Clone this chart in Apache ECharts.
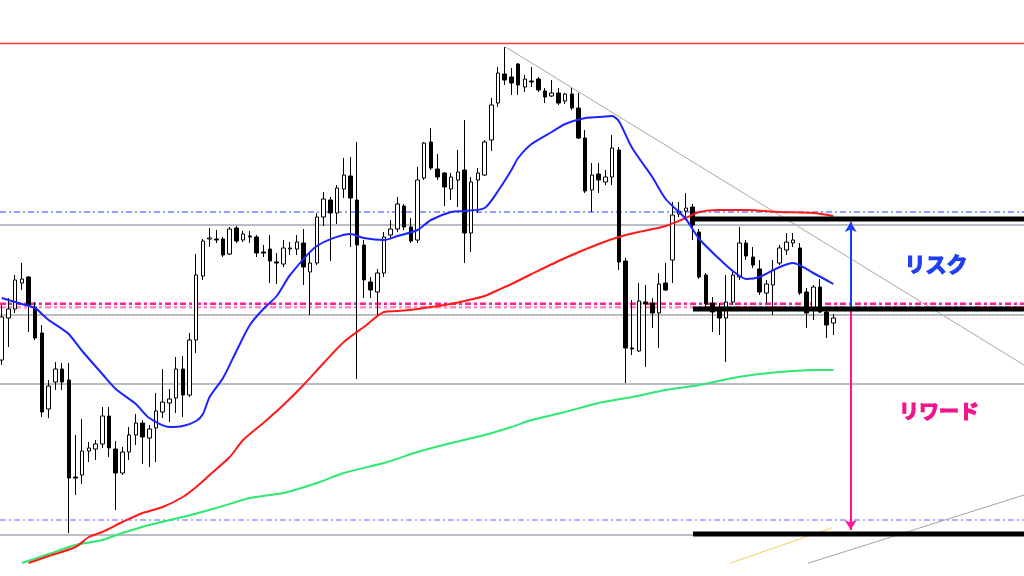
<!DOCTYPE html>
<html>
<head>
<meta charset="utf-8">
<script src="https://cdn.jsdelivr.net/npm/echarts@6/dist/echarts.min.js"></script>
<style>html,body{margin:0;padding:0;background:#fff;}#c{width:1024px;height:576px;}</style>
</head>
<body>
<div id="c"></div>
<script>
// Candles: [open, close, low, high]
const candles = [
[146.40,146.83,146.35,146.95],[146.82,146.91,146.53,147.02],[146.91,147.20,146.87,147.25],[147.17,147.21,147.10,147.37],
[147.23,146.95,146.68,147.24],[146.93,146.62,146.60,146.98],[146.67,145.88,145.83,146.75],[145.91,146.14,145.82,146.20],
[146.18,146.31,146.10,146.38],[146.31,146.18,146.10,146.37],[146.20,145.22,144.67,146.37],[145.23,145.22,145.05,145.65],
[145.25,145.49,145.16,145.81],[145.49,145.52,145.38,145.58],[145.51,145.56,145.40,145.60],[145.56,145.84,145.52,145.93],
[145.84,145.52,145.43,145.93],[145.51,145.27,144.90,145.59],[145.27,145.48,145.25,145.53],[145.48,145.65,145.40,145.73],
[145.65,145.77,145.55,145.86],[145.77,145.63,145.36,145.80],[145.62,145.71,145.33,145.75],[145.72,145.89,145.38,146.07],
[145.88,145.98,145.82,146.31],[145.97,146.01,145.78,146.11],[146.02,146.31,145.87,146.43],[146.31,146.05,145.83,146.44],
[146.05,146.60,146.03,146.67],[146.60,147.25,146.47,147.46],[147.24,147.59,147.20,147.61],[147.61,147.62,147.53,147.72],
[147.61,147.60,147.57,147.70],[147.61,147.45,147.43,147.63],[147.46,147.71,147.45,147.73],[147.72,147.59,147.57,147.74],
[147.60,147.66,147.58,147.69],[147.64,147.63,147.57,147.69],[147.63,147.47,147.43,147.65],[147.48,147.47,147.43,147.55],
[147.51,147.39,147.17,147.65],[147.38,147.37,147.16,147.47],[147.36,147.52,147.33,147.60],[147.51,147.52,147.45,147.58],
[147.51,147.58,147.45,147.65],[147.57,147.33,147.15,147.71],[147.28,147.37,146.85,147.47],[147.37,147.83,147.35,147.87],
[147.83,148.01,147.74,148.08],[148.00,147.87,147.39,148.03],[147.87,148.12,147.76,148.15],[148.11,148.25,148.02,148.42],
[148.24,148.02,147.53,148.43],[148.00,147.55,146.21,148.58],[147.55,147.20,147.02,147.60],[147.18,147.10,147.02,147.23],
[147.08,147.27,146.85,147.31],[147.27,147.63,147.23,147.68],[147.65,147.71,147.62,147.80],[147.71,147.96,147.68,148.03],
[147.94,147.73,147.70,147.96],[147.73,147.59,147.57,147.82],[147.60,148.20,147.57,148.33],[148.22,148.57,148.20,148.58],
[148.58,148.32,148.30,148.72],[148.31,148.23,148.20,148.46],[148.27,148.13,147.94,148.28],[148.11,148.23,148.00,148.27],
[148.20,148.28,147.93,148.50],[148.30,147.67,147.37,148.80],[147.67,148.18,147.48,148.23],[148.20,148.27,147.87,148.32],
[148.25,148.58,148.24,148.60],[148.60,148.95,148.49,149.02],[148.97,149.27,148.93,149.33],[149.26,149.20,149.15,149.53],
[149.23,149.17,149.05,149.32],[149.36,149.15,149.05,149.37],[149.13,149.21,149.08,149.25],[149.19,149.18,149.13,149.33],
[149.21,149.10,149.08,149.23],[149.09,149.03,148.97,149.12],[149.04,149.07,149.03,149.20],[149.07,148.97,148.95,149.12],
[148.99,149.06,148.96,149.07],[149.06,148.92,148.90,149.12],[148.92,148.62,148.61,149.07],[148.62,148.09,148.07,148.70],
[148.10,148.25,147.88,148.37],[148.26,148.20,148.07,148.37],[148.18,148.23,148.15,148.30],[148.23,148.52,148.15,148.65],
[148.50,147.38,147.30,148.53],[147.39,146.52,146.17,147.42],[146.52,146.51,146.45,147.00],[146.49,146.99,146.48,147.17],
[146.98,146.96,146.33,147.15],[146.97,146.87,146.72,147.02],[146.87,147.16,146.52,147.27],[147.17,147.10,147.09,147.37],
[147.40,147.85,147.17,147.98],[147.86,147.89,147.83,147.98],[147.89,147.92,147.80,148.07],[147.93,147.75,147.60,147.96],
[147.68,147.23,147.21,147.71],[147.25,146.96,146.90,147.27],[146.97,146.88,146.68,147.03],[146.90,146.82,146.65,146.97],
[146.82,146.98,146.38,147.25],[146.98,147.25,146.95,147.30],[147.23,147.57,147.20,147.73],[147.57,147.44,147.40,147.60],
[147.43,147.35,147.32,147.53],[147.31,147.08,147.05,147.40],[147.07,147.16,146.97,147.20],[147.15,147.30,146.85,147.40],
[147.37,147.52,147.35,147.55],[147.50,147.58,147.45,147.67],[147.57,147.60,147.53,147.67],[147.52,147.07,147.05,147.57],
[147.08,146.87,146.72,147.12],[146.92,147.13,146.80,147.15],[147.13,146.88,146.87,147.21],[146.88,146.75,146.62,146.92],
[146.77,146.82,146.65,146.86]
];

// Moving averages: [candle index, value]
const blueMA = [[0,147.02],[3,146.96],[5,146.92],[6,146.86],[7,146.80],[9,146.71],[10,146.66],[12,146.49],[15,146.26],[17,146.11],[20,145.96],[22,145.82],[25,145.73],[27,145.74],[29,145.79],[30,145.86],[31,146.03],[33,146.22],[35,146.49],[37,146.75],[39,146.91],[41,147.04],[43,147.25],[47,147.54],[52,147.66],[54,147.62],[57,147.60],[59,147.64],[62,147.70],[64,147.80],[67,147.88],[69,147.89],[72,147.92],[74,148.09],[76,148.30],[77,148.42],[79,148.56],[82,148.68],[84,148.76],[87,148.82],[89,148.83],[91,148.84],[92,148.79],[94,148.52],[97,148.23],[99,148.01],[102,147.81],[104,147.61],[107,147.41],[109,147.29],[111,147.21],[113,147.23],[116,147.33],[118,147.37],[121,147.27],[124,147.16]];
const redMA = [[4,144.37],[7,144.44],[11,144.53],[13,144.63],[15,144.68],[18,144.78],[21,144.87],[24,144.93],[27,145.03],[29,145.13],[31,145.25],[34,145.43],[36,145.60],[39,145.77],[42,145.95],[45,146.15],[48,146.37],[51,146.58],[54,146.73],[57,146.88],[59,146.89],[62,146.91],[64,146.93],[67,146.96],[69,146.99],[72,147.04],[74,147.10],[76,147.16],[79,147.26],[84,147.42],[89,147.56],[92,147.63],[95,147.68],[99,147.74],[102,147.82],[104,147.88],[107,147.90],[111,147.90],[116,147.88],[121,147.87],[124,147.84]];
const greenMA = [[3,144.37],[7,144.46],[11,144.55],[15,144.60],[18,144.67],[22,144.75],[27,144.83],[32,144.92],[37,145.02],[42,145.07],[47,145.17],[51,145.27],[57,145.37],[62,145.48],[67,145.57],[72,145.65],[76,145.73],[79,145.80],[84,145.88],[89,145.97],[94,146.03],[99,146.10],[104,146.15],[109,146.22],[113,146.26],[116,146.28],[121,146.30],[124,146.30]];

// Horizontal levels
const redLevel = 149.565;
const blueDashLevels = [147.88, 144.80];
const grayLevels = [147.75, 146.85, 146.16, 144.65];
const pinkLevels = [146.962, 146.928];
const faintPinkLevel = 146.82;
const zoneStart = 103.07;
const zoneLevels = [147.81, 146.91, 144.66]; // resistance, entry, target
// Trend lines: [[x, y], [x, y]]
const trendDown = [[75.04, 149.533], [152.42, 146.35]];
const trendUp = [[120.2, 144.367], [152.42, 145.05]];
const trendYellow = [[108.6, 144.367], [123.8, 144.723]];
const arrowX = 126.58;
const riskArrow = [146.91, 147.78];
const rewardArrow = [146.91, 144.70];
const labels = ['リスク', 'リワード'];

const X_MIN = -0.2535, X_MAX = 152.42;

const chart = echarts.init(document.getElementById('c'), null, {renderer: 'canvas'});

function seg(data, color, width, type, z) {
  return {type: 'line', data: data, symbol: 'none', silent: true, animation: false,
    lineStyle: {color: color, width: width, type: type || 'solid'}, z: z || 4};
}
function full(v, color, width, type) {
  return seg([[X_MIN, v], [X_MAX, v]], color, width, type, 1);
}

const series = [
  {
    type: 'candlestick',
    data: candles.map((d, i) => [i, d[0], d[1], d[2], d[3]]),
    barWidth: 4,
    itemStyle: {color: '#ffffff', color0: '#000000', borderColor: '#000000', borderColor0: '#000000', borderWidth: 1},
    animation: false,
    silent: true,
    z: 2
  }
];
series.push(full(redLevel, '#ff3c3c', 1.3));
grayLevels.forEach(v => series.push(full(v, '#a0a8b2', 1.3)));
series.push(full(blueDashLevels[0], '#2a3cff', 1.2, [6, 3, 2, 3]));
series.push(full(blueDashLevels[1], '#5a64ff', 1.2, [6, 3, 2, 3]));
series.push(full(pinkLevels[0], '#ff1f92', 2.5, [6, 3, 3, 3]));
series.push(full(pinkLevels[1], '#ff8cc2', 2.5, [6, 3, 3, 3]));
series.push(full(faintPinkLevel, '#ffd6e6', 1, [2, 2]));

series.push(seg(trendDown, '#a8a8a8', 1));
series.push(seg(trendUp, '#9ea4ac', 1));
series.push(seg(trendYellow, '#f6d36a', 1.2));
series.push({type: 'line', data: greenMA, symbol: 'none', smooth: 0.25, lineStyle: {color: '#2ee872', width: 2}, z: 5, animation: false, silent: true});
series.push({type: 'line', data: redMA, symbol: 'none', smooth: 0.25, lineStyle: {color: '#ff1a1a', width: 2}, z: 5, animation: false, silent: true});
series.push({type: 'line', data: blueMA, symbol: 'none', smooth: 0.25, lineStyle: {color: '#1a24ff', width: 2}, z: 5, animation: false, silent: true});
zoneLevels.forEach(v => series.push(seg([[zoneStart, v], [X_MAX, v]], '#000000', 5, 'solid', 6)));

const arrowData = [
  [{coord: [arrowX, riskArrow[0]], lineStyle: {color: '#1a3cff', width: 2, type: 'solid'}}, {coord: [arrowX, riskArrow[1]]}],
  [{coord: [arrowX, rewardArrow[0]], lineStyle: {color: '#ff1493', width: 2, type: 'solid'}}, {coord: [arrowX, rewardArrow[1]]}]
];
series.push({
  type: 'line', data: [], symbol: 'none', silent: true, animation: false, z: 7,
  markLine: {silent: true, animation: false, symbol: ['none', 'arrow'], symbolSize: [9, 10],
    lineStyle: {type: 'solid', width: 2}, label: {show: false}, data: arrowData}
});

chart.setOption({
  animation: false,
  backgroundColor: '#ffffff',
  grid: {left: 0, right: 0, top: 0, bottom: 0},
  xAxis: {type: 'value', min: X_MIN, max: X_MAX, show: false, splitLine: {show: false}},
  yAxis: {type: 'value', min: 144.24, max: 150, show: false, splitLine: {show: false}, scale: true},
  series: series,
  graphic: [
    {type: 'text', x: 936, y: 264, z: 10, style: {text: labels[0], fill: '#1f3ff0', stroke: '#1f3ff0', lineWidth: 1.2, font: 'bold 21px "Noto Sans CJK JP"', textAlign: 'center', textVerticalAlign: 'middle'}},
    {type: 'text', x: 939, y: 411, z: 10, style: {text: labels[1], fill: '#f0148c', stroke: '#f0148c', lineWidth: 1.2, font: 'bold 20px "Noto Sans CJK JP"', textAlign: 'center', textVerticalAlign: 'middle'}}
  ]
});
</script>
</body>
</html>
